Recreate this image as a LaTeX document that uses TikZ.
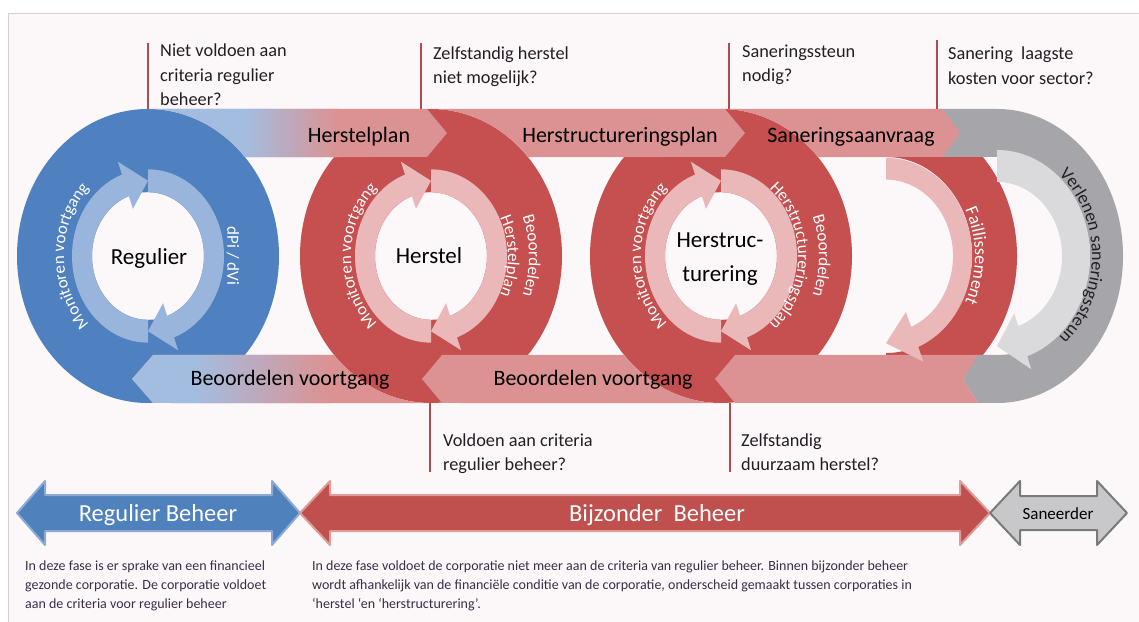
\documentclass[tikz,border=0pt]{standalone}
\usepackage{fontspec}
\setmainfont{Carlito}
\usetikzlibrary{decorations.text}
\definecolor{bgPink}{HTML}{FCF8FA}
\definecolor{frameGrey}{HTML}{D2D2D2}
\definecolor{blueDark}{HTML}{4F80C0}
\definecolor{blueLight}{HTML}{9AB5DC}
\definecolor{bandBlue}{HTML}{A3BDE0}
\definecolor{redDark}{HTML}{C5504F}
\definecolor{pinkLight}{HTML}{EAB8B8}
\definecolor{pinkBand}{HTML}{DC9292}
\definecolor{greyDark}{HTML}{A6A6AA}
\definecolor{greyLight}{HTML}{DADADD}
\definecolor{calloutRed}{HTML}{B04A55}
\definecolor{txtDark}{HTML}{221E24}
\definecolor{paraCol}{HTML}{3A2D48}
\definecolor{arrBlue}{HTML}{4F81BD}
\definecolor{arrBlueEdge}{HTML}{8DAAD6}
\definecolor{arrRed}{HTML}{C0504D}
\definecolor{arrRedEdge}{HTML}{DE9C9A}
\definecolor{arrGrey}{HTML}{C8C8CB}
\definecolor{arrGreyEdge}{HTML}{7A7A7A}
\def\ky{1.14}
\newcommand{\ringarrow}[9]{%
  \pgfmathsetmacro\rOx{#7}\pgfmathsetmacro\rOy{#7*\ky}%
  \pgfmathsetmacro\rHx{#7+#8}\pgfmathsetmacro\rHy{(#7+#8)*\ky}%
  \pgfmathsetmacro\rMx{(#6+#7)/2}\pgfmathsetmacro\rMy{(#6+#7)/2*\ky}%
  \pgfmathsetmacro\rLx{#6-#8}\pgfmathsetmacro\rLy{(#6-#8)*\ky}%
  \pgfmathsetmacro\rIx{#6}\pgfmathsetmacro\rIy{#6*\ky}%
  \begin{scope}[shift={(#1,#2)}]
    \fill[#9] (#3:\rOx pt and \rOy pt) arc[start angle=#3, end angle=#4, x radius=\rOx pt, y radius=\rOy pt]
      -- (#4:\rHx pt and \rHy pt) -- (#5:\rMx pt and \rMy pt) -- (#4:\rLx pt and \rLy pt)
      -- (#4:\rIx pt and \rIy pt) arc[start angle=#4, end angle=#3, x radius=\rIx pt, y radius=\rIy pt] -- cycle;
  \end{scope}}
\newcommand{\ringtext}[8]{%
  \pgfmathsetmacro\tRx{#5}\pgfmathsetmacro\tRy{#5*1.13}%
  \begin{scope}[shift={(#1,#2)}]
  \path[decorate, decoration={text along path, text={|\fontsize{#7}{#7}\selectfont|#8}, text align=center, text color=#6}]
    (#3:\tRx pt and \tRy pt) arc[start angle=#3, end angle=#4, x radius=\tRx pt, y radius=\tRy pt];
  \end{scope}}
\begin{document}
\begin{tikzpicture}[x=1pt,y=1pt,
  bandtxt/.style={font=\fontsize{22}{24}\selectfont, text=black, inner sep=0pt, anchor=base},
  centertxt/.style={font=\fontsize{23}{26}\selectfont, text=black, inner sep=0pt, anchor=base},
  qtxt/.style={font=\fontsize{18.3}{20}\selectfont, text=txtDark, inner sep=0pt, anchor=base west},
  paratxt/.style={font=\fontsize{14}{16}\selectfont, text=paraCol, inner sep=0pt, anchor=base west},
  callout/.style={draw=calloutRed, line width=1.5pt},
  bigarrowtxt/.style={font=\fontsize{24.5}{26}\selectfont, text=white, inner sep=0pt, anchor=base}]
\useasboundingbox (0,0) rectangle (1139,621);
\clip (0,0) rectangle (1139,621);
\fill[white] (0,0) rectangle (1139,621);
\draw[frameGrey, line width=1.6pt, fill=bgPink] (8.5,607.5) rectangle (1180,-30);

% ---- dark rings ----
\fill[blueDark, even odd rule] (148,365) ellipse[x radius=131, y radius=147] (148,365) ellipse[x radius=56, y radius=63.84];
\fill[redDark, even odd rule] (431,365) ellipse[x radius=131, y radius=147] (431,365) ellipse[x radius=56, y radius=63.84];
\fill[redDark, even odd rule] (721,365) ellipse[x radius=131, y radius=147] (721,365) ellipse[x radius=56, y radius=63.84];
\fill[redDark] (886,512) arc[start angle=90, end angle=-90, x radius=131, y radius=147] -- (886,267.96) arc[start angle=-90, end angle=90, x radius=86, y radius=98.04] -- cycle;
\fill[greyDark] (940,512) -- (997,512) arc[start angle=90, end angle=-90, x radius=126, y radius=147] -- (978,218) -- (963,242) -- (978,266) -- (997,266) arc[start angle=-90, end angle=90, x radius=93, y radius=99] -- (940,464) -- cycle;

% ---- top bands ----
\begin{scope}
\clip (148,512) arc[start angle=90, end angle=42.33, x radius=131, y radius=147] -- (427,464) -- (447,488) -- (427,512) -- cycle;
\fill[pinkBand] (140,460) rectangle (450,516);
\fill[bandBlue] (140,460) rectangle (245,516);
\shade[left color=bandBlue, right color=pinkBand] (245,460) rectangle (338,516);
\end{scope}
\fill[pinkBand] (431,512) arc[start angle=90, end angle=42.33, x radius=131, y radius=147] -- (725,464) -- (745,488) -- (725,512) -- cycle;
\fill[pinkBand] (721,512) arc[start angle=90, end angle=42.33, x radius=131, y radius=147] -- (942,464) -- (960,488) -- (942,512) -- cycle;

% ---- bottom bands ----
\begin{scope}
\clip (132,242) -- (153,266) -- (334.1,266) arc[start angle=222.33, end angle=270, x radius=131, y radius=147] -- (153,218) -- cycle;
\fill[pinkBand] (125,210) rectangle (440,270);
\fill[bandBlue] (125,210) rectangle (195,270);
\shade[left color=bandBlue, right color=pinkBand] (195,210) rectangle (330,270);
\end{scope}
\fill[pinkBand] (422,242) -- (442,266) -- (624.1,266) arc[start angle=222.33, end angle=270, x radius=131, y radius=147] -- (442,218) -- cycle;
\fill[pinkBand] (715,242) -- (735,266) -- (978,266) -- (963,242) -- (978,218) -- (735,218) -- cycle;

% ---- light circular arrows ----
\ringarrow{148}{365}{270}{110}{90}{56}{76}{12}{blueLight}
\ringarrow{148}{365}{90}{-70}{-90}{56}{76}{12}{blueLight}
\ringarrow{431}{365}{270}{110}{90}{56}{76}{12}{pinkLight}
\ringarrow{431}{365}{90}{-70}{-90}{56}{76}{12}{pinkLight}
\ringarrow{721}{365}{270}{110}{90}{56}{76}{12}{pinkLight}
\ringarrow{721}{365}{90}{-70}{-90}{56}{76}{12}{pinkLight}
\ringarrow{886}{365}{90}{-68}{-90}{67}{86}{14}{pinkLight}
\ringarrow{997}{365}{90}{-71}{-90}{65}{93}{12}{greyLight}

% ---- ring labels ----
\ringtext{148}{365}{250}{110}{84}{white}{17}{Monitoren voortgang}
\node[font=\fontsize{17}{18}\selectfont, text=white, rotate=-90, inner sep=0pt] (dpi) at (233,365) {dPi / dVi};
\ringtext{431}{365}{250}{110}{80}{white}{17}{Monitoren voortgang}
\ringtext{431}{365}{70}{-70}{98}{white}{17}{Beoordelen}
\ringtext{431}{365}{70}{-70}{77}{white}{17}{Herstelplan}
\ringtext{721}{365}{250}{110}{80}{white}{17}{Monitoren voortgang}
\ringtext{721}{365}{70}{-70}{98}{white}{17}{Beoordelen}
\ringtext{721}{365}{80}{-80}{77}{white}{17}{Herstructureringsplan}
\ringtext{886}{365}{70}{-70}{89}{white}{18}{Faillissement}
\ringtext{997}{365}{85}{-85}{95}{txtDark}{18}{Verlenen saneringssteun}

% ---- centre labels ----
\node[centertxt] (regulier) at (149,356) {Regulier};
\node[centertxt] (herstel) at (429,357) {Herstel};
\node[centertxt] (herstruca) at (720,373) {Herstruc-};
\node[centertxt] (herstrucb) at (720,339) {turering};

% ---- band labels ----
\node[bandtxt] (herstelplan) at (359,478) {Herstelplan};
\node[bandtxt] (hsplan) at (620,478) {Herstructureringsplan};
\node[bandtxt] (saneringsaanvraag) at (851,478) {Saneringsaanvraag};
\node[bandtxt] (beoord1) at (290,235) {Beoordelen voortgang};
\node[bandtxt] (beoord2) at (593,235) {Beoordelen voortgang};

% ---- callout lines ----
\coordinate (c1t) at (148,578); \coordinate (c1b) at (148,512);
\coordinate (c2t) at (421,578); \coordinate (c2b) at (421,512);
\coordinate (c3t) at (729,578); \coordinate (c3b) at (729,512);
\coordinate (c4t) at (937,581); \coordinate (c4b) at (937,512);
\coordinate (c5t) at (430,218); \coordinate (c5b) at (430,149);
\coordinate (c6t) at (730,218); \coordinate (c6b) at (730,149);
\draw[callout] (c1t) -- (c1b);
\draw[callout] (c2t) -- (c2b);
\draw[callout] (c3t) -- (c3b);
\draw[callout] (c4t) -- (c4b);
\draw[callout] (c5t) -- (c5b);
\draw[callout] (c6t) -- (c6b);

% ---- questions ----
\node[qtxt] (q1a) at (160,564) {Niet voldoen aan};
\node[qtxt] (q1b) at (160,539) {criteria regulier};
\node[qtxt] (q1c) at (160,515) {beheer?};
\node[qtxt] (q2a) at (433,561) {Zelfstandig herstel};
\node[qtxt] (q2b) at (433,537) {niet mogelijk?};
\node[qtxt] (q3a) at (742,563) {Saneringssteun};
\node[qtxt] (q3b) at (742,539) {nodig?};
\node[qtxt] (q4a) at (948,561) {Sanering~ laagste};
\node[qtxt] (q4b) at (948,536) {kosten voor sector?};
\node[qtxt] (q5a) at (443,174) {Voldoen aan criteria};
\node[qtxt] (q5b) at (443,150) {regulier beheer?};
\node[qtxt] (q6a) at (741,174) {Zelfstandig};
\node[qtxt] (q6b) at (741,150) {duurzaam herstel?};

% ---- bottom double arrows ----
\filldraw[fill=arrBlue, draw=arrBlueEdge, line width=2pt, line join=round] (17,108) -- (45,140) -- (45,126) -- (272,126) -- (272,140) -- (300,108) -- (272,76) -- (272,90) -- (45,90) -- (45,76) -- cycle;
\filldraw[fill=arrRed, draw=arrRedEdge, line width=2pt, line join=round] (300,108) -- (330,140) -- (330,126) -- (960,126) -- (960,140) -- (990,108) -- (960,76) -- (960,90) -- (330,90) -- (330,76) -- cycle;
\filldraw[fill=arrGrey, draw=arrGreyEdge, line width=2pt, line join=round] (990,108) -- (1020,140) -- (1020,125) -- (1097,125) -- (1097,140) -- (1127,108) -- (1097,76) -- (1097,91) -- (1020,91) -- (1020,76) -- cycle;
\node[bigarrowtxt] (regbeheer) at (158,100) {Regulier Beheer};
\node[bigarrowtxt] (bijzbeheer) at (657,100) {Bijzonder\ \ Beheer};
\node[font=\fontsize{17}{18}\selectfont, text=black, inner sep=0pt, anchor=base] (saneerder) at (1058,102) {Saneerder};

% ---- paragraphs ----
\node[paratxt] (p1a) at (25,51) {In deze fase is er sprake van een financieel};
\node[paratxt] (p1b) at (25,32) {gezonde corporatie. De corporatie voldoet};
\node[paratxt] (p1c) at (25,13) {aan de criteria voor regulier beheer};
\node[paratxt] (p2a) at (312,51) {In deze fase voldoet de corporatie niet meer aan de criteria van regulier beheer. Binnen bijzonder beheer};
\node[paratxt] (p2b) at (312,32) {wordt afhankelijk van de financiële conditie van de corporatie, onderscheid gemaakt tussen corporaties in};
\node[paratxt] (p2c) at (312,13) {‘herstel ‘en ‘herstructurering’.};
\end{tikzpicture}
\end{document}
